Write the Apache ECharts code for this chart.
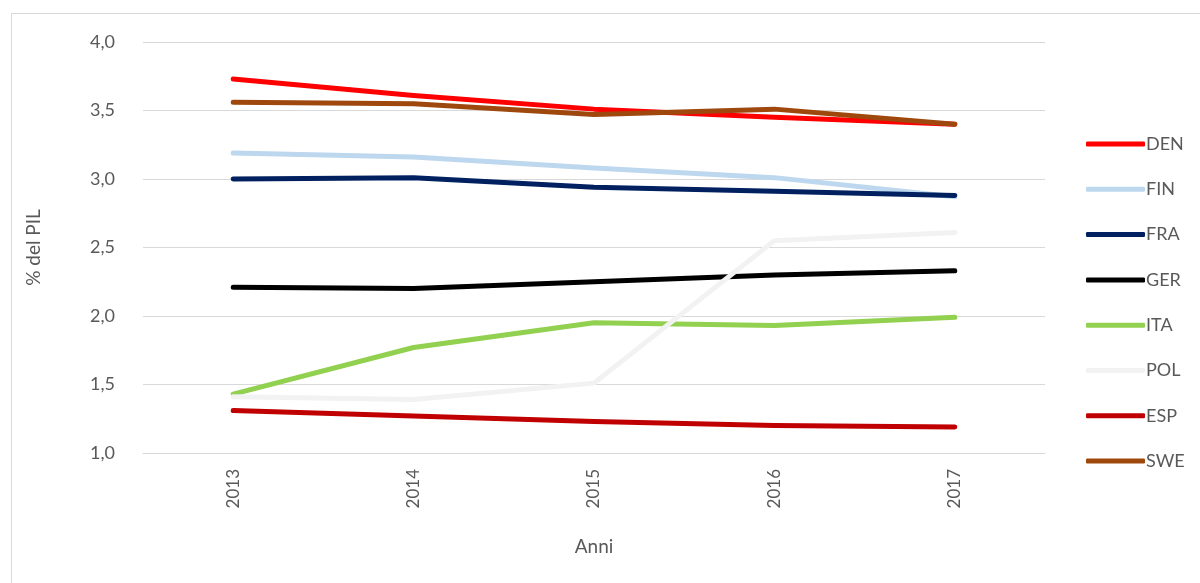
<!DOCTYPE html>
<html>
<head>
<meta charset="utf-8">
<script src="https://cdn.jsdelivr.net/npm/echarts@6/dist/echarts.min.js"></script>
<style>
  html, body { margin: 0; padding: 0; background: #fff; }
  #frame { position: absolute; left: 11px; top: 13px; width: 1200px; height: 600px; border: 1px solid #d9d9d9; box-sizing: border-box; }
  #chart { position: absolute; left: 0; top: 0; width: 1200px; height: 583px; }
</style>
</head>
<body>
<div id="frame"></div>
<div id="chart"></div>
<script>
// Spesa in % del PIL, 2013-2017
const anni = ['2013', '2014', '2015', '2016', '2017'];
const yTicks = [1.0, 1.5, 2.0, 2.5, 3.0, 3.5, 4.0];

const DEN = [3.73, 3.61, 3.51, 3.45, 3.40];
const FIN = [3.19, 3.16, 3.08, 3.01, 2.87];
const FRA = [3.00, 3.01, 2.94, 2.91, 2.88];
const GER = [2.21, 2.20, 2.25, 2.30, 2.33];
const ITA = [1.43, 1.77, 1.95, 1.93, 1.99];
const POL = [1.41, 1.39, 1.51, 2.55, 2.61];
const ESP = [1.31, 1.27, 1.23, 1.20, 1.19];
const SWE = [3.56, 3.55, 3.47, 3.51, 3.40];

const paesi = [
  { name: 'DEN', data: DEN, color: '#ff0000' },
  { name: 'FIN', data: FIN, color: '#bdd7ee' },
  { name: 'FRA', data: FRA, color: '#002060' },
  { name: 'GER', data: GER, color: '#000000' },
  { name: 'ITA', data: ITA, color: '#92d050' },
  { name: 'POL', data: POL, color: '#f2f2f2' },
  { name: 'ESP', data: ESP, color: '#c00000' },
  { name: 'SWE', data: SWE, color: '#9e480e' }
];

const font = 'Lato, "Liberation Sans", sans-serif';
const chart = echarts.init(document.getElementById('chart'), null, { renderer: 'canvas' });

chart.setOption({
  animation: false,
  backgroundColor: 'transparent',
  textStyle: { fontFamily: font },
  grid: { left: 143, right: 155, top: 42, bottom: 130 },
  legend: {
    orient: 'vertical',
    left: 1081,
    top: 130,
    itemWidth: 59,
    itemHeight: 5,
    itemGap: 27.3,
    icon: 'roundRect',
    textStyle: { fontFamily: font, fontSize: 18, color: '#595959', padding: [0, 0, 0, -4] },
    data: paesi.map(p => ({ name: p.name, itemStyle: { color: p.color } }))
  },
  xAxis: {
    type: 'category',
    data: anni,
    boundaryGap: true,
    name: 'Anni',
    nameLocation: 'middle',
    nameGap: 84,
    nameTextStyle: { fontFamily: font, fontSize: 19, color: '#595959' },
    axisLine: { lineStyle: { color: '#d9d9d9', width: 1 } },
    axisTick: { show: false },
    axisLabel: { rotate: 90, margin: 16, fontFamily: font, fontSize: 17, color: '#595959' }
  },
  yAxis: {
    type: 'value',
    min: yTicks[0],
    max: yTicks[yTicks.length - 1],
    interval: 0.5,
    name: '% del PIL',
    nameLocation: 'middle',
    nameGap: 100,
    nameTextStyle: { fontFamily: font, fontSize: 19, color: '#595959' },
    axisLine: { show: false },
    axisTick: { show: false },
    splitLine: { lineStyle: { color: '#d9d9d9', width: 1 } },
    axisLabel: {
      margin: 28,
      fontFamily: font,
      fontSize: 18,
      color: '#595959',
      formatter: v => v.toFixed(1).replace('.', ',')
    }
  },
  series: paesi.map(p => ({
    name: p.name,
    type: 'line',
    data: p.data,
    symbol: 'none',
    color: p.color,
    lineStyle: { color: p.color, width: 5, cap: 'round', join: 'round' }
  }))
});
</script>
</body>
</html>
